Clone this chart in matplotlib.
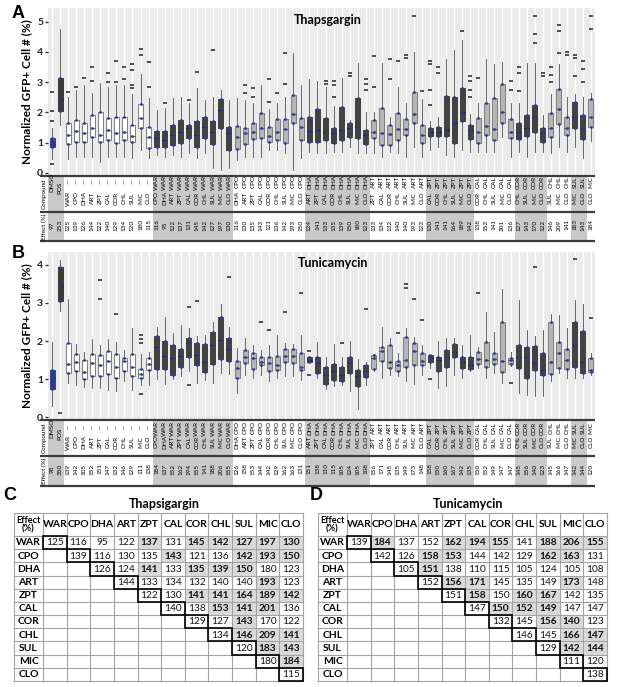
import matplotlib
matplotlib.use('Agg')
import matplotlib.pyplot as plt
from matplotlib.patches import Rectangle

plt.rcParams['font.family'] = ['Lato', 'DejaVu Sans']

# ---------------- data ----------------
compounds = ['WAR', 'CPO', 'DHA', 'ART', 'ZPT', 'CAL', 'COR', 'CHL', 'SUL', 'MIC', 'CLO']
controls = ['DMSO', 'POS']

thap_ctrl_effect = [97, 253]
tuni_ctrl_effect = [98, 350]

# upper-triangle effect matrices (each row starts at the diagonal)
thap_effect = [
    [125, 116, 95, 122, 137, 131, 145, 142, 127, 197, 130],
    [139, 116, 130, 135, 143, 121, 136, 142, 193, 150],
    [126, 124, 141, 133, 135, 139, 150, 180, 123],
    [144, 133, 134, 132, 140, 140, 193, 123],
    [122, 130, 141, 141, 164, 189, 142],
    [140, 138, 153, 141, 201, 136],
    [129, 127, 143, 170, 122],
    [134, 146, 209, 141],
    [120, 183, 143],
    [180, 184],
    [115],
]
thap_bold = [
    [0, 0, 0, 0, 1, 0, 1, 1, 1, 1, 1],
    [0, 0, 0, 0, 1, 0, 0, 1, 1, 1],
    [0, 0, 1, 0, 1, 1, 1, 0, 0],
    [0, 0, 0, 0, 0, 0, 1, 0],
    [0, 0, 1, 1, 1, 1, 1],
    [0, 0, 1, 1, 1, 0],
    [0, 0, 1, 0, 0],
    [0, 1, 1, 1],
    [0, 1, 1],
    [0, 1],
    [0],
]
tuni_effect = [
    [139, 184, 137, 152, 162, 194, 155, 141, 188, 206, 155],
    [142, 126, 158, 153, 144, 142, 129, 162, 163, 131],
    [105, 151, 138, 110, 115, 105, 124, 105, 108],
    [152, 156, 171, 145, 135, 149, 173, 148],
    [151, 158, 150, 160, 167, 142, 135],
    [147, 150, 152, 149, 147, 147],
    [132, 145, 156, 140, 123],
    [146, 145, 166, 147],
    [129, 142, 144],
    [111, 120],
    [138],
]
tuni_bold = [
    [0, 1, 0, 0, 1, 1, 1, 0, 1, 1, 1],
    [0, 0, 1, 1, 0, 0, 0, 1, 1, 0],
    [0, 1, 0, 0, 0, 0, 0, 0, 0],
    [0, 1, 1, 0, 0, 0, 1, 0],
    [0, 1, 0, 1, 1, 0, 0],
    [0, 1, 1, 1, 0, 0],
    [0, 0, 1, 1, 0],
    [0, 0, 1, 1],
    [0, 1, 1],
    [0, 0],
    [0],
]

# box statistics, Thapsigargin (68 boxes: DMSO, POS, 11 singles, 55 pairs)
thap_q1 = [0.87, 2.04, 0.96, 1.03, 1.03, 1.20, 1.03, 1.09, 0.98, 1.09, 1.03, 1.47, 0.81,
           0.87, 0.87, 0.92, 0.98, 1.14, 0.87, 1.14, 0.96, 1.47, 0.76,
           0.78, 0.96, 1.11, 1.14, 1.03, 1.09, 0.98, 1.64, 1.09,
           1.03, 1.03, 1.09, 1.00, 1.09, 1.18, 1.14, 0.96,
           1.14, 0.92, 0.92, 1.09, 1.25, 1.64, 0.98,
           1.22, 1.22, 1.22, 1.00, 1.73, 1.11,
           0.98, 1.25, 1.09, 1.66, 1.14,
           1.11, 1.22, 1.36, 1.03,
           1.20, 1.62, 1.25,
           1.47, 1.11,
           1.53]
thap_med = [0.97, 2.45, 1.25, 1.40, 1.31, 1.47, 1.25, 1.42, 1.31, 1.36, 1.22, 1.80, 1.20,
            1.14, 1.08, 1.25, 1.36, 1.47, 1.25, 1.53, 1.36, 2.08, 1.31,
            1.20, 1.31, 1.36, 1.47, 1.22, 1.36, 1.44, 1.95, 1.53,
            1.38, 1.42, 1.36, 1.31, 1.42, 1.47, 1.53, 1.25,
            1.36, 1.33, 1.29, 1.44, 1.44, 1.95, 1.25,
            1.36, 1.36, 1.42, 1.64, 2.02, 1.42,
            1.36, 1.55, 1.44, 2.02, 1.36,
            1.36, 1.47, 1.86, 1.31,
            1.47, 2.10, 1.47,
            1.86, 1.47,
            1.86]
thap_q3 = [1.14, 3.15, 1.64, 1.75, 1.66, 1.91, 2.02, 1.80, 1.86, 1.86, 1.58, 2.27, 1.53,
           1.38, 1.38, 1.58, 1.75, 1.58, 1.73, 1.84, 1.73, 2.43, 1.53,
           1.55, 1.50, 1.66, 1.97, 1.53, 1.77, 1.77, 2.57, 1.82,
           1.84, 2.10, 1.80, 1.47, 2.19, 1.66, 2.46, 1.42,
           1.75, 2.13, 1.58, 1.99, 1.77, 2.68, 1.58,
           1.47, 1.53, 2.54, 2.52, 2.82, 1.58,
           1.80, 2.32, 2.46, 2.93, 1.77,
           1.66, 1.91, 2.26, 1.47,
           1.97, 2.76, 1.84,
           2.33, 1.91,
           2.43]
thap_lo = [0.45, 1.58, 0.45, 0.54, 0.54, 0.54, 0.37, 0.54, 0.54, 0.54, 0.48, 0.76, 0.48,
           0.59, 0.54, 0.59, 0.54, 0.65, 0.48, 0.65, 0.15, 0.10, 0.15,
           0.43, 0.54, 0.54, 0.54, 0.76, 0.76, 0.65, 0.10, 0.48,
           0.70, 0.65, 0.65, 0.70, 0.70, 0.85, 0.65, 0.65,
           0.65, 0.54, 0.70, 0.65, 0.54, 0.87, 0.54,
           0.76, 0.87, 0.59, 0.54, 0.76, 0.70,
           0.70, 0.70, 0.70, 1.20, 0.54,
           0.70, 0.54, 0.70, 0.70,
           0.65, 0.87, 0.70,
           0.87, 0.48,
           1.05]
thap_hi = [1.50, 4.74, 2.50, 2.74, 2.90, 2.63, 2.96, 2.85, 2.90, 2.90, 2.60, 3.28, 2.46,
           2.08, 2.13, 2.46, 2.52, 2.30, 2.79, 2.41, 2.52, 2.74, 2.41,
           2.46, 2.40, 2.30, 2.90, 2.10, 2.30, 2.52, 3.95, 2.90,
           3.09, 3.05, 2.85, 2.20, 3.12, 1.75, 3.62, 2.00,
           2.00, 3.62, 1.85, 2.85, 2.30, 4.00, 2.43,
           1.70, 1.85, 3.75, 4.05, 4.38, 1.95,
           2.30, 3.75, 3.60, 3.67, 2.30,
           2.30, 3.62, 3.62, 1.90,
           2.60, 3.60, 2.52,
           2.60, 2.52,
           2.65]
thap_fliers = [[0.28, 1.7, 2.05, 2.68], [], [2.68], [2.85], [3.15], [3.05, 3.5], [], [3.0, 3.3],
               [3.0, 3.7], [3.1, 3.5], [2.8, 2.9, 3.4, 3.6], [3.9, 4.1], [2.85, 3.65],
               [], [2.3], [], [], [2.4], [3.35], [], [4.05], [], [],
               [], [2.65, 2.9], [2.5, 2.8], [], [2.35, 3.1], [2.65], [2.95, 3.95], [], [],
               [], [], [2.95, 3.05], [2.5, 2.9, 3.05], [], [3.2, 3.3], [], [2.75, 2.95, 3.1],
               [2.85, 3.85], [], [3.1, 3.75], [3.7], [3.8, 3.9], [5.2], [2.7],
               [2.25, 2.75, 3.6, 3.7], [3.3, 3.5], [], [], [4.7], [2.5, 2.75, 3.05, 3.2],
               [3.15], [], [], [], [2.75, 3.05],
               [2.7, 3.3, 3.5], [], [4.3, 4.6, 5.2], [3.2, 3.3],
               [3.0, 3.25, 3.5], [3.95, 4.7, 4.9], [3.9, 4.0],
               [3.2, 3.8, 3.9], [3.0, 3.45, 3.7],
               [4.75, 5.2]]

# box statistics, Tunicamycin
tuni_q1 = [0.75, 3.05, 1.16, 1.20, 1.00, 1.07, 1.07, 1.12, 1.03, 1.20, 1.07, 1.03, 1.24,
           1.27, 1.27, 1.11, 1.33, 1.59, 1.36, 1.18, 1.39, 1.53, 1.48,
           1.04, 1.42, 1.27, 1.36, 1.22, 1.24, 1.46, 1.42, 1.24,
           1.46, 1.16, 0.87, 0.98, 0.94, 1.17, 0.81, 1.05,
           1.27, 1.48, 1.30, 1.20, 1.33, 1.36, 1.36,
           1.44, 1.20, 1.33, 1.59, 1.30, 1.27,
           1.39, 1.33, 1.39, 1.18, 1.39,
           1.30, 1.04, 1.24, 1.10,
           1.14, 1.30, 1.27,
           1.33, 1.17,
           1.18]
tuni_med = [1.03, 3.45, 1.39, 1.44, 1.18, 1.41, 1.36, 1.48, 1.33, 1.48, 1.33, 1.13, 1.39,
            1.83, 1.60, 1.55, 1.60, 1.94, 1.62, 1.45, 1.90, 2.03, 1.80,
            1.29, 1.57, 1.55, 1.46, 1.42, 1.36, 1.60, 1.60, 1.33,
            1.51, 1.42, 1.11, 1.20, 1.11, 1.42, 1.07, 1.20,
            1.55, 1.74, 1.46, 1.36, 1.50, 1.74, 1.48,
            1.55, 1.51, 1.59, 1.72, 1.46, 1.36,
            1.53, 1.50, 1.52, 1.48, 1.51,
            1.57, 1.57, 1.42, 1.24,
            1.46, 1.68, 1.50,
            1.90, 1.46,
            1.24]
tuni_q3 = [1.24, 3.95, 1.96, 1.65, 1.50, 1.65, 1.63, 1.73, 1.65, 1.56, 1.65, 1.27, 1.55,
           2.13, 2.00, 1.90, 1.80, 2.08, 1.96, 1.91, 2.24, 2.63, 2.07,
           1.47, 1.77, 1.68, 1.57, 1.57, 1.60, 1.80, 1.80, 1.68,
           1.57, 1.57, 1.31, 1.39, 1.33, 1.57, 1.24, 1.36,
           1.62, 1.85, 1.90, 1.48, 2.11, 1.94, 1.68,
           1.62, 1.59, 1.77, 1.91, 1.57, 1.57,
           1.70, 1.97, 1.68, 2.50, 1.55,
           1.90, 1.85, 1.88, 1.68,
           2.50, 1.98, 1.78,
           2.49, 2.26,
           1.55]
tuni_lo = [0.30, 2.80, 0.90, 0.85, 0.80, 0.77, 0.77, 0.72, 0.68, 0.94, 0.72, 0.85, 0.85,
           1.00, 0.87, 1.00, 1.07, 1.20, 0.90, 0.98, 0.90, 1.15, 1.12,
           0.63, 1.11, 1.03, 1.11, 0.94, 1.03, 1.07, 1.07, 0.98,
           1.46, 1.03, 0.74, 0.83, 0.85, 0.68, 0.20, 0.85,
           1.20, 1.03, 1.11, 1.07, 0.94, 0.87, 1.11,
           1.29, 0.77, 0.81, 1.11, 1.03, 1.20,
           1.29, 1.03, 1.16, 0.90, 1.35,
           0.63, 0.59, 0.55, 0.55,
           0.94, 1.15, 1.03,
           1.03, 1.03,
           1.11]
tuni_hi = [1.98, 4.13, 3.10, 1.91, 1.72, 2.05, 1.90, 2.05, 1.98, 1.77, 2.33, 1.65, 1.71,
           2.37, 2.63, 2.20, 2.42, 2.35, 2.13, 2.15, 2.50, 2.98, 2.37,
           1.81, 2.07, 1.90, 1.77, 1.90, 2.15, 1.94, 1.92, 2.15,
           1.57, 1.98, 1.59, 1.91, 1.59, 2.00, 1.53, 1.44,
           1.65, 2.37, 2.07, 1.68, 2.35, 2.10, 1.90,
           1.64, 2.00, 2.07, 2.07, 1.90, 2.17,
           1.85, 2.77, 2.24, 3.37, 1.72,
           3.07, 2.29, 2.14, 2.29,
           2.70, 2.68, 2.35,
           3.07, 2.98,
           1.68]
tuni_fliers = [[], [0.12], [], [], [], [], [3.1, 3.6], [], [2.7], [], [], [0.6, 1.95, 2.05, 2.15], [],
               [], [], [], [], [0.85, 2.9], [3.05], [], [], [], [3.68],
               [], [], [], [2.5], [2.3], [], [2.75], [], [3.25],
               [1.1, 1.74], [], [], [], [1.95], [], [], [2.85],
               [], [], [], [2.2], [3.4, 3.5], [3.1], [2.55],
               [1.0], [], [], [], [], [],
               [3.25], [], [], [], [0.9],
               [], [], [3.95], [],
               [], [], [],
               [4.15], [],
               [2.6]]

# ---------------- layout helpers ----------------
W, H = 617, 687
fig = plt.figure(figsize=(W / 100, H / 100), dpi=100)


def rect(x0, y0, x1, y1):
    return [x0 / W, 1 - y1 / H, (x1 - x0) / W, (y1 - y0) / H]


# column description
col_upper, col_lower, col_kind, col_shade = [], [], [], []
for c in controls:
    col_upper.append(c); col_lower.append(''); col_kind.append(c); col_shade.append(True)
for c in compounds:
    col_upper.append('\u2014'); col_lower.append(c); col_kind.append('single'); col_shade.append(False)
n = len(compounds)
for i in range(n):
    for j in range(i + 1, n):
        col_upper.append(compounds[i]); col_lower.append(compounds[j])
        col_kind.append('dark' if i % 2 == 0 else 'light')
        col_shade.append(i % 2 == 0)
ncol = len(col_kind)

face = {'DMSO': '#2b3a8f', 'POS': '#3a3a3a', 'single': 'white', 'dark': '#424242', 'light': '#b5b5b5'}
edge = {'DMSO': '#2b3a8f', 'POS': '#2a2a2a', 'single': '#6a6a6a', 'dark': '#333333', 'light': '#707070'}
medc = {'DMSO': '#1a2566', 'POS': '#222222', 'single': '#666666', 'dark': '#222222', 'light': '#555555'}


def effects_for(ctrl, mat):
    e = list(ctrl) + [mat[k][0] for k in range(n)]
    for i in range(n):
        for j in range(i + 1, n):
            e.append(mat[i][j - i])
    return e


def draw_panel(plot_px, tab_px, q1, med, q3, lo, hi, fl, ylim, yticks, eff,
               title, title_xy, y_up, y_low, y_eff, y_sep, letter, letter_xy):
    ax = fig.add_axes(rect(*plot_px))
    ax.set_facecolor('#ebebeb')
    stats = [dict(q1=a, med=m, q3=b, whislo=l, whishi=h, fliers=f)
             for a, m, b, l, h, f in zip(q1, med, q3, lo, hi, fl)]
    bp = ax.bxp(stats, positions=list(range(ncol)), widths=0.62, patch_artist=True,
                showcaps=False, showfliers=True,
                boxprops=dict(linewidth=0.6),
                whiskerprops=dict(color='#666666', linewidth=0.7),
                medianprops=dict(linewidth=0.8),
                flierprops=dict(marker='_', markersize=2.3, markeredgewidth=1.1,
                                markeredgecolor='#222222'))
    for k, patch in enumerate(bp['boxes']):
        patch.set_facecolor(face[col_kind[k]])
        patch.set_edgecolor(edge[col_kind[k]])
        bp['medians'][k].set_color(medc[col_kind[k]])
    # navy dots at the quartile values (reference shows the measured points in blue)
    for k in range(ncol):
        vals = [q1[k], med[k], q3[k]]
        ax.plot([k] * len(vals), vals, linestyle='none', marker='o', markersize=1.2,
                color='#2e3b92', alpha=0.8, zorder=4)
    ax.set_xlim(-0.5, ncol - 0.5)
    ax.set_ylim(*ylim)
    ax.set_xticks(list(range(ncol)))
    ax.tick_params(axis='x', length=0, labelbottom=False)
    ax.grid(axis='x', color='white', linewidth=0.9)
    ax.set_axisbelow(True)
    ax.set_yticks(yticks)
    ax.set_yticklabels([str(t) for t in yticks], fontsize=7.5, fontweight='bold', color='#222222')
    ax.tick_params(axis='y', length=2.5, width=1.0, color='#333333', pad=1)
    for s in ax.spines.values():
        s.set_visible(False)
    ax.text(title_xy[0], title_xy[1], title, transform=fig.transFigure, fontsize=9,
            fontweight='bold', ha='center', va='center')
    fig.text(27 / W, 1 - ((plot_px[1] + plot_px[3]) / 2) / H, 'Normalized GFP+ Cell # (%)',
             rotation=90, ha='center', va='center', fontsize=8.5, fontweight='bold')
    fig.text(letter_xy[0] / W, 1 - letter_xy[1] / H, letter, fontsize=13, fontweight='bold',
             ha='center', va='center', family=['Liberation Sans', 'DejaVu Sans'])

    # table below
    tx0, ty0, tx1, ty1 = tab_px
    at = fig.add_axes(rect(tx0, ty0, tx1, ty1))
    at.set_xlim(-1.5, ncol - 0.5)
    at.set_ylim(ty1, ty0)
    at.axis('off')
    for k in range(ncol):
        if col_shade[k]:
            at.add_patch(Rectangle((k - 0.5, ty0), 1, ty1 - ty0, facecolor='#c9c9c9',
                                   edgecolor='none', zorder=0))
    for yy in (ty0 + 0.5, y_sep, ty1 - 0.5):
        at.plot([-1.5, ncol - 0.5], [yy, yy], color='#3c3c3c', lw=1.6, solid_capstyle='butt',
                zorder=2, clip_on=False)
    fs = 4.6
    for k in range(ncol):
        if col_kind[k] in controls:
            yy = y_up + (0 if k == 0 else 6)
            at.text(k, yy, col_upper[k], rotation=90, ha='center', va='center', fontsize=fs)
        else:
            at.text(k, y_up, col_upper[k], rotation=90, ha='center', va='center', fontsize=fs)
            at.text(k, y_low, col_lower[k], rotation=90, ha='center', va='center', fontsize=fs)
        at.text(k, y_eff, str(eff[k]), rotation=90, ha='center', va='center', fontsize=fs)
    at.text(-1, (ty0 + y_sep) / 2 + 0.5, 'Compound', rotation=90, ha='center', va='center',
            fontsize=4.5)
    at.text(-1, (y_sep + ty1) / 2, 'Effect (%)', rotation=90, ha='center', va='center',
            fontsize=4.5)


thap_eff = effects_for(thap_ctrl_effect, thap_effect)
tuni_eff = effects_for(tuni_ctrl_effect, tuni_effect)

draw_panel((48, 8, 595, 175), (40, 175, 595, 241), thap_q1, thap_med, thap_q3, thap_lo, thap_hi,
           thap_fliers, (-0.07, 5.45), [0, 1, 2, 3, 4, 5], thap_eff,
           'Thapsgargin', (328 / W, 1 - 20 / H), 182, 198, 225, 212, 'A', (18, 13))
draw_panel((48, 252, 595, 419), (40, 419, 595, 486), tuni_q1, tuni_med, tuni_q3, tuni_lo, tuni_hi,
           tuni_fliers, (-0.05, 4.34), [0, 1, 2, 3, 4], tuni_eff,
           'Tunicamycin', (333 / W, 1 - 263 / H), 428, 442, 469, 456, 'B', (18, 253))

# ---------------- matrices C / D ----------------
ov = fig.add_axes([0, 0, 1, 1])
ov.set_xlim(0, W)
ov.set_ylim(H, 0)
ov.axis('off')


def draw_matrix(x0, xf, x1, y0, yh, y1, vals, bold, title, letter, lx):
    cw = (x1 - xf) / n
    rh = (y1 - yh) / n
    for r in range(n):
        for c in range(r, n):
            v = vals[r][c - r]
            b = bold[r][c - r]
            cx = xf + (c + 0.5) * cw
            cy = yh + (r + 0.5) * rh
            if b:
                ov.add_patch(Rectangle((xf + c * cw, yh + r * rh), cw, rh, facecolor='#d9d9d9',
                                       edgecolor='none', zorder=0))
            ov.text(cx, cy + 0.3, str(v), ha='center', va='center', fontsize=7.3,
                    fontweight='bold' if b else 'normal', color='#111111')
    xs = [x0, xf] + [xf + k * cw for k in range(1, n + 1)]
    ys = [y0, yh] + [yh + k * rh for k in range(1, n + 1)]
    for x in xs:
        ov.plot([x, x], [y0, y1], color='#a3a3a3', lw=0.8, zorder=1)
    for y in ys:
        ov.plot([x0, x1], [y, y], color='#a3a3a3', lw=0.8, zorder=1)
    for k in range(n):
        ov.add_patch(Rectangle((xf + k * cw, yh + k * rh), cw, rh, facecolor='none',
                               edgecolor='black', lw=1.2, zorder=3))
        ov.text(xf + (k + 0.5) * cw, (y0 + yh) / 2, compounds[k], ha='center', va='center',
                fontsize=7.5, fontweight='bold')
        ov.text((x0 + xf) / 2, yh + (k + 0.5) * rh + 0.3, compounds[k], ha='center', va='center',
                fontsize=7.5, fontweight='bold')
    ov.text((x0 + xf) / 2, (y0 + yh) / 2, 'Effect\n(%)', ha='center', va='center', fontsize=6.6,
            fontweight='bold', linespacing=0.95)
    ov.text((x0 + x1) / 2 + 6, y0 - 9, title, ha='center', va='center', fontsize=9,
            fontweight='bold')
    ov.text(lx, y0 - 17, letter, ha='center', va='center', fontsize=13, fontweight='bold',
            family=['Liberation Sans', 'DejaVu Sans'])


draw_matrix(14, 43, 303, 513, 536, 681, thap_effect, thap_bold, 'Thapsigargin', 'C', 10)
draw_matrix(318, 347, 607, 513, 536, 681, tuni_effect, tuni_bold, 'Tunicamycin', 'D', 316)

fig.savefig('out.png', dpi=100, facecolor='white')
